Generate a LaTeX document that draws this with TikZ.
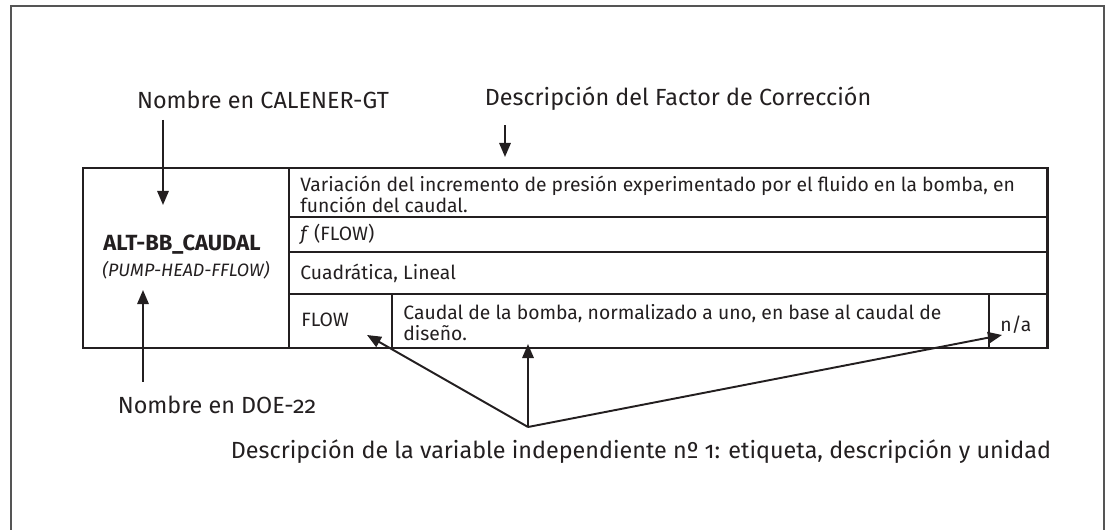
\documentclass[tikz,border=0pt]{standalone}
\usepackage{fontspec}
\setmainfont{Fira Sans}[Numbers=OldStyle]
\usepackage{tikz}
\usetikzlibrary{positioning,calc,arrows.meta}
\definecolor{calInk}{RGB}{35,31,32}
\definecolor{calFrame}{RGB}{85,85,85}
\tikzset{
  calLabel/.style={font=\fontsize{13.3}{16}\selectfont, text=calInk, inner sep=0pt},
  calCell/.style={font=\fontsize{11}{12}\selectfont, text=calInk, inner sep=0pt, anchor=west, align=left},
  calArrow/.style={draw=calInk, line width=1.1pt, -{Triangle[length=8pt,width=6.5pt]}},
  calThick/.style={draw=calInk, line width=1.7pt},
  calThin/.style={draw=calInk, line width=0.75pt}
}
\begin{document}
\begin{tikzpicture}[x=0.02cm,y=-0.02cm]
  \useasboundingbox (0,0) rectangle (1112,530);
  % Open frame round the figure
  \draw[calFrame, line width=0.9pt] (11,530) -- (11,6) -- (1104,6) -- (1104,530);
  % Table grid
  \draw[calThin] (289,217) -- (1047,217);
  \draw[calThin] (289,252) -- (1047,252);
  \draw[calThin] (289,294) -- (1047,294);
  \draw[calThin] (392,294) -- (392,348);
  \draw[calThin] (989,294) -- (989,348);
  \draw[calThick] (289,168) -- (289,348);
  \draw[calThick] (83,168) rectangle (1047,348);
  % Left cell: names
  \node[font=\fontsize{12.5}{15}\selectfont\bfseries, text=calInk, inner sep=0pt] (calCode) at (182,245) {ALT-BB\_CAUDAL};
  \node[font=\fontsize{10.2}{12}\selectfont\itshape, text=calInk, inner sep=0pt] (doeCode) at (186,270) {(PUMP-HEAD-FFLOW)};
  % Right cells
  \node[calCell] (rowDesc) at (300,194) {Variación del incremento de presión experimentado por el fluido en la bomba, en\\función del caudal.};
  \node[calCell] (rowFunc) at (300,234.5) {\textit{f} (FLOW)};
  \node[calCell] (rowType) at (300,273) {Cuadrática, Lineal};
  \node[calCell] (varTag) at (301,320) {FLOW};
  \node[calCell] (varDesc) at (403,322.5) {Caudal de la bomba, normalizado a uno, en base al caudal de\\diseño.};
  \node[calCell] (varUnit) at (1000,325) {n/a};
  % Labels and arrows
  \node[calLabel] (calName) at (263,100) {Nombre en CALENER-GT};
  \coordinate (calTip) at (163,205);
  \draw[calArrow] ([yshift=-6pt]calName.south -| calTip) -- (calTip);
  \node[calLabel] (factorName) at (678,99) {Descripción del Factor de Corrección};
  \coordinate (factorTip) at (505,157);
  \draw[calArrow] ([yshift=-8pt]factorName.south -| factorTip) -- (factorTip);
  \node[calLabel] (doeName) at (217,405) {Nombre en DOE-22};
  \coordinate (doeTip) at (143,290);
  \draw[calArrow] ([yshift=8pt]doeName.north -| doeTip) -- (doeTip);
  \node[calLabel] (varName) at (641,452) {Descripción de la variable independiente nº 1: etiqueta, descripción y unidad};
  \coordinate (varHub) at (528,427);
  \coordinate (tagTip) at (367,335);
  \coordinate (descTip) at (528,344);
  \coordinate (unitTip) at (1002,335);
  \draw[calArrow] (varHub) -- (tagTip);
  \draw[calArrow] (varHub) -- (descTip);
  \draw[calArrow] (varHub) -- (unitTip);
\end{tikzpicture}
\end{document}
